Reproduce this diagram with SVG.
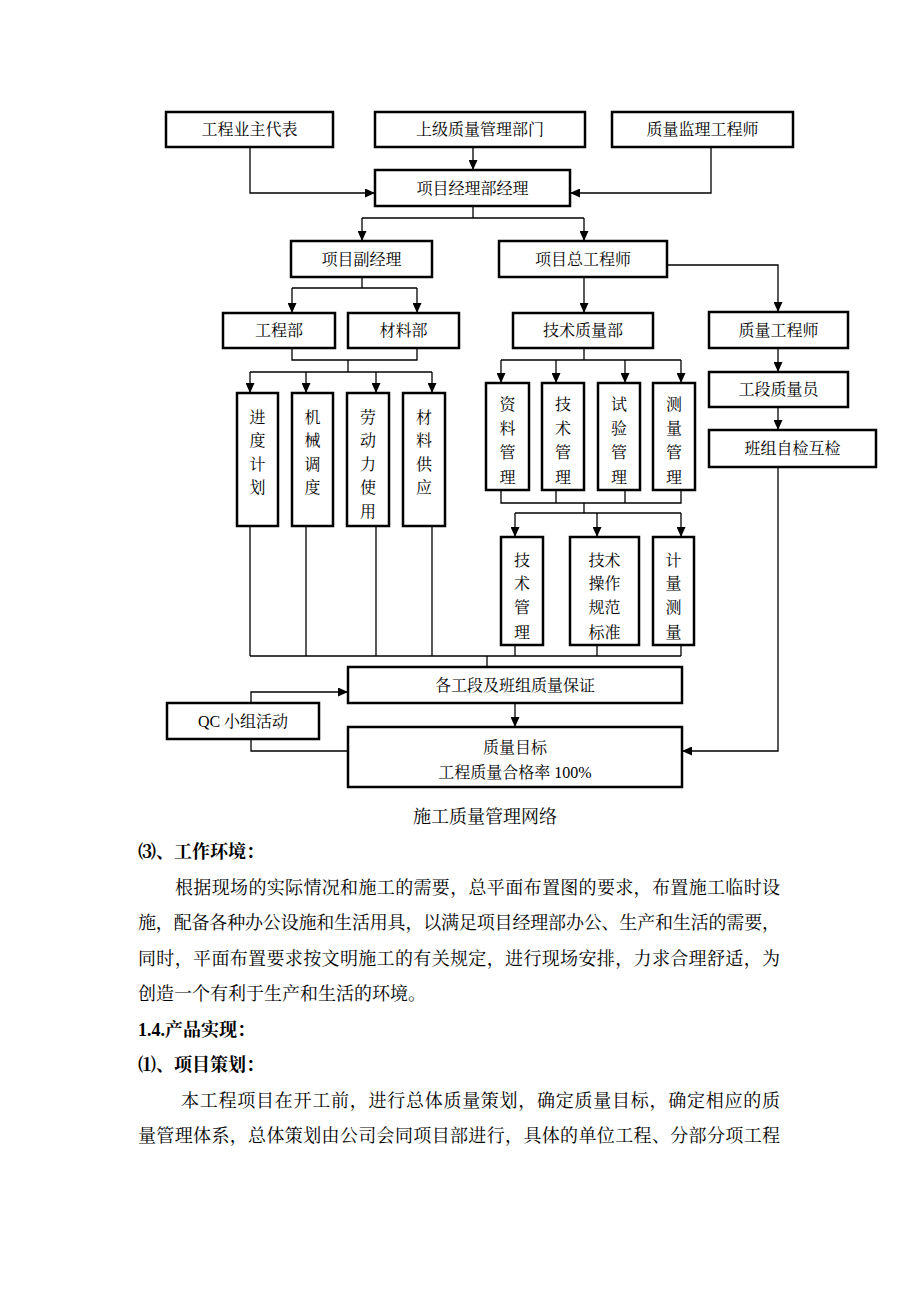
<svg xmlns="http://www.w3.org/2000/svg" width="920" height="1302" viewBox="0 0 920 1302">
<defs>
<style>
.box{fill:#fff;stroke:#000;stroke-width:2.5}
.ln{fill:none;stroke:#000;stroke-width:1.3}
.ar{fill:none;stroke:#000;stroke-width:1.3;marker-end:url(#ah)}
text{font-family:"Liberation Serif","Noto Serif CJK SC","Noto Sans CJK SC",serif;fill:#000;dominant-baseline:central}
.t{font-size:16px;text-anchor:middle}
.cap{font-size:18px;text-anchor:middle}
.body{font-size:18px}
.hd{font-size:18px;font-weight:bold}
</style>
<marker id="ah" markerWidth="10" markerHeight="9" refX="10" refY="4.5" orient="auto" markerUnits="userSpaceOnUse">
<path d="M0,0 L10,4.5 L0,9 Z" fill="#000"/>
</marker>
</defs>
<rect x="0" y="0" width="920" height="1302" fill="#fff"/>

<g id="connectors">
<polyline class="ar" points="250,147 250,193 375,193"/>
<polyline class="ar" points="473,147 473,170"/>
<polyline class="ar" points="711,147 711,193 570,193"/>
<polyline class="ln" points="473,206 473,218"/>
<polyline class="ln" points="362,218 584,218"/>
<polyline class="ar" points="362,218 362,241"/>
<polyline class="ar" points="584,218 584,241"/>
<polyline class="ln" points="362,277 362,288"/>
<polyline class="ln" points="292,288 417,288"/>
<polyline class="ar" points="292,288 292,313"/>
<polyline class="ar" points="417,288 417,313"/>
<polyline class="ar" points="584,277 584,313"/>
<polyline class="ar" points="667,265 778,265 778,312"/>
<polyline class="ar" points="778,348 778,372"/>
<polyline class="ar" points="778,407 778,430"/>
<polyline class="ar" points="778,467 778,751 682,751"/>
<polyline class="ln" points="292,348 292,360 417,360 417,348"/>
<polyline class="ln" points="348,360 348,372"/>
<polyline class="ln" points="250,372 432,372"/>
<polyline class="ar" points="250,372 250,393"/>
<polyline class="ar" points="306,372 306,393"/>
<polyline class="ar" points="376,372 376,393"/>
<polyline class="ar" points="432,372 432,393"/>
<polyline class="ln" points="250,526 250,656"/>
<polyline class="ln" points="306,526 306,656"/>
<polyline class="ln" points="376,526 376,656"/>
<polyline class="ln" points="432,526 432,656"/>
<polyline class="ln" points="584,348 584,360"/>
<polyline class="ln" points="501,360 681,360"/>
<polyline class="ar" points="501,360 501,383"/>
<polyline class="ar" points="556,360 556,383"/>
<polyline class="ar" points="625,360 625,383"/>
<polyline class="ar" points="681,360 681,383"/>
<polyline class="ln" points="501,490 501,503 681,503 681,490"/>
<polyline class="ln" points="556,490 556,503"/>
<polyline class="ln" points="625,490 625,503"/>
<polyline class="ln" points="584,503 584,513"/>
<polyline class="ln" points="515,513 681,513"/>
<polyline class="ar" points="515,513 515,537"/>
<polyline class="ar" points="597,513 597,537"/>
<polyline class="ar" points="681,513 681,537"/>
<polyline class="ln" points="515,645 515,656"/>
<polyline class="ln" points="597,645 597,656"/>
<polyline class="ln" points="681,645 681,656"/>
<polyline class="ln" points="250,656 681,656"/>
<polyline class="ln" points="487,656 487,667"/>
<polyline class="ar" points="515,703 515,727"/>
<polyline class="ar" points="251,703 251,692 348,692"/>
<polyline class="ln" points="251,739 251,751 348,751"/>
</g>

<g id="n-owner"><rect class="box" x="166" y="112" width="167" height="35"/><text class="t" x="249.5" y="129.5">工程业主代表</text></g>
<g id="n-superior"><rect class="box" x="375" y="112" width="210" height="35"/><text class="t" x="480" y="129.5">上级质量管理部门</text></g>
<g id="n-supervisor"><rect class="box" x="612" y="112" width="181" height="35"/><text class="t" x="702.5" y="129.5">质量监理工程师</text></g>
<g id="n-pm"><rect class="box" x="375" y="170" width="195" height="36"/><text class="t" x="472.5" y="188">项目经理部经理</text></g>
<g id="n-dpm"><rect class="box" x="291" y="241" width="141" height="36"/><text class="t" x="361.5" y="259">项目副经理</text></g>
<g id="n-chief"><rect class="box" x="499" y="241" width="168" height="36"/><text class="t" x="583" y="259">项目总工程师</text></g>
<g id="n-eng"><rect class="box" x="223" y="313" width="112" height="35"/><text class="t" x="279" y="330.5">工程部</text></g>
<g id="n-mat"><rect class="box" x="348" y="313" width="111" height="35"/><text class="t" x="403.5" y="330.5">材料部</text></g>
<g id="n-tech"><rect class="box" x="513" y="313" width="140" height="35"/><text class="t" x="583" y="330.5">技术质量部</text></g>
<g id="n-qe"><rect class="box" x="709" y="312" width="139" height="36"/><text class="t" x="778.5" y="330">质量工程师</text></g>
<g id="n-qi"><rect class="box" x="709" y="372" width="139" height="35"/><text class="t" x="778.5" y="389.5">工段质量员</text></g>
<g id="n-self"><rect class="box" x="709" y="430" width="167" height="37"/><text class="t" x="792.5" y="448.5">班组自检互检</text></g>

<g id="n-sched"><rect class="box" x="237" y="393" width="41" height="133"/>
<text class="t" x="257.5" y="417">进</text><text class="t" x="257.5" y="440.5">度</text><text class="t" x="257.5" y="464">计</text><text class="t" x="257.5" y="487.5">划</text></g>
<g id="n-mach"><rect class="box" x="292" y="393" width="41" height="133"/>
<text class="t" x="312.5" y="417">机</text><text class="t" x="312.5" y="440.5">械</text><text class="t" x="312.5" y="464">调</text><text class="t" x="312.5" y="487.5">度</text></g>
<g id="n-labor"><rect class="box" x="347" y="393" width="42" height="133"/>
<text class="t" x="368" y="417">劳</text><text class="t" x="368" y="440.5">动</text><text class="t" x="368" y="464">力</text><text class="t" x="368" y="487.5">使</text><text class="t" x="368" y="511">用</text></g>
<g id="n-supply"><rect class="box" x="403" y="393" width="42" height="133"/>
<text class="t" x="424" y="417">材</text><text class="t" x="424" y="440.5">料</text><text class="t" x="424" y="464">供</text><text class="t" x="424" y="487.5">应</text></g>

<g id="n-doc"><rect class="box" x="486" y="383" width="43" height="107"/>
<text class="t" x="507.5" y="404">资</text><text class="t" x="507.5" y="428">料</text><text class="t" x="507.5" y="452.5">管</text><text class="t" x="507.5" y="477">理</text></g>
<g id="n-techm"><rect class="box" x="542" y="383" width="42" height="107"/>
<text class="t" x="563" y="404">技</text><text class="t" x="563" y="428">术</text><text class="t" x="563" y="452.5">管</text><text class="t" x="563" y="477">理</text></g>
<g id="n-test"><rect class="box" x="598" y="383" width="42" height="107"/>
<text class="t" x="619" y="404">试</text><text class="t" x="619" y="428">验</text><text class="t" x="619" y="452.5">管</text><text class="t" x="619" y="477">理</text></g>
<g id="n-survey"><rect class="box" x="653" y="383" width="42" height="107"/>
<text class="t" x="674" y="404">测</text><text class="t" x="674" y="428">量</text><text class="t" x="674" y="452.5">管</text><text class="t" x="674" y="477">理</text></g>

<g id="n-techm2"><rect class="box" x="501" y="537" width="42" height="108"/>
<text class="t" x="522" y="560">技</text><text class="t" x="522" y="583.5">术</text><text class="t" x="522" y="607.5">管</text><text class="t" x="522" y="632">理</text></g>
<g id="n-std"><rect class="box" x="570" y="537" width="69" height="108"/>
<text class="t" x="604.5" y="560">技术</text><text class="t" x="604.5" y="583.5">操作</text><text class="t" x="604.5" y="607.5">规范</text><text class="t" x="604.5" y="632">标准</text></g>
<g id="n-meter"><rect class="box" x="653" y="537" width="41" height="108"/>
<text class="t" x="673.5" y="560">计</text><text class="t" x="673.5" y="583.5">量</text><text class="t" x="673.5" y="607.5">测</text><text class="t" x="673.5" y="632">量</text></g>

<g id="n-guarantee"><rect class="box" x="348" y="667" width="334" height="36"/><text class="t" x="515" y="685">各工段及班组质量保证</text></g>
<g id="n-qc"><rect class="box" x="167" y="703" width="152" height="36"/><text class="t" x="243" y="721">QC 小组活动</text></g>
<g id="n-goal"><rect class="box" x="348" y="727" width="334" height="60"/><text class="t" x="515" y="747">质量目标</text><text class="t" x="515" y="772">工程质量合格率 100%</text></g>

<g id="caption"><text class="cap" x="485" y="817">施工质量管理网络</text></g>

<g id="bodytext">
<text class="hd" x="138" y="852">⑶、工作环境：</text>
<text class="body" x="175" y="887.5" textLength="605" lengthAdjust="spacing">根据现场的实际情况和施工的需要，总平面布置图的要求，布置施工临时设</text>
<text class="body" x="138" y="923" textLength="642" lengthAdjust="spacing">施，配备各种办公设施和生活用具，以满足项目经理部办公、生产和生活的需要，</text>
<text class="body" x="138" y="958.5" textLength="642" lengthAdjust="spacing">同时，平面布置要求按文明施工的有关规定，进行现场安排，力求合理舒适，为</text>
<text class="body" x="138" y="994">创造一个有利于生产和生活的环境。</text>
<text class="hd" x="138" y="1029.5">1.4.产品实现：</text>
<text class="hd" x="138" y="1065">⑴、项目策划：</text>
<text class="body" x="181" y="1100.5" textLength="599" lengthAdjust="spacing">本工程项目在开工前，进行总体质量策划，确定质量目标，确定相应的质</text>
<text class="body" x="138" y="1136" textLength="642" lengthAdjust="spacing">量管理体系，总体策划由公司会同项目部进行，具体的单位工程、分部分项工程</text>
</g>
</svg>
